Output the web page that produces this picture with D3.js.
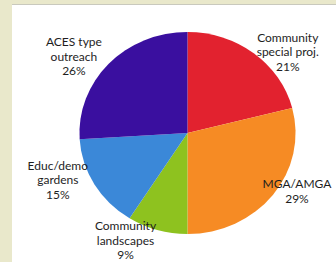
<!DOCTYPE html>
<html>
<head>
<meta charset="utf-8">
<script src="https://cdn.jsdelivr.net/npm/d3@7"></script>
<style>
  html, body { margin: 0; padding: 0; background: #e9e8cb; }
  svg { display: block; }
</style>
</head>
<body>
<svg id="chart" width="336" height="262"></svg>
<script>
// data, clockwise from 12 o'clock
var categories = ["Community special proj.", "MGA/AMGA", "Community landscapes", "Educ/demo gardens", "ACES type outreach"];
var values = [21, 29, 9, 15, 26];
var labelLines = [
    ["Community", "special proj.", "21%"],
    ["MGA/AMGA", "29%"],
    ["Community", "landscapes", "9%"],
    ["Educ/demo", "gardens", "15%"],
    ["ACES type", "outreach", "26%"]
];
var colors = ["#e2222f", "#f68b24", "#8ec21f", "#3b88d8", "#3a0f9f"];

// label placement: angle (deg, clockwise from top) and distance from centre
var labelPlace = [[51, 129], [118, 124], [210, 124], [250, 138], [304, 137]];

var width = 336, height = 262;
var cx = 187.5, cy = 133, r = 101, sx = 1.07;

var svg = d3.select("#chart");

// white panel
svg.append("rect").attr("x", 12).attr("y", 4).attr("width", width - 12).attr("height", height - 4)
    .attr("fill", "#ffffff");
svg.append("line").attr("x1", 12).attr("x2", width).attr("y1", 4.5).attr("y2", 4.5)
    .attr("stroke", "#c9c9bd").attr("stroke-width", 1);

var pie = d3.pie().sort(null).value(function(d){ return d; });
var arc = d3.arc().innerRadius(0).outerRadius(r);
var arcs = pie(values);

var g = svg.append("g").attr("transform", "translate(" + cx + "," + cy + ") scale(" + sx + ",1)");
g.selectAll("path")
    .data(arcs)
    .enter()
        .append("path")
        .attr("d", arc)
        .attr("fill", function(d, i){ return colors[i]; });

var lineH = 14.5;
var labels = svg.append("g").attr("font-family", "Lato, 'Open Sans', sans-serif")
    .attr("font-size", 12).attr("fill", "#1e1e1e").attr("text-anchor", "middle");

arcs.forEach(function(d, i){
    var a = labelPlace[i][0] * Math.PI / 180;
    var dist = labelPlace[i][1];
    var lx = cx + Math.sin(a) * dist;
    var ly = cy - Math.cos(a) * dist;
    var lines = labelLines[i];
    var y0 = ly - (lines.length - 1) * lineH / 2;
    var t = labels.append("text").attr("x", lx).attr("y", y0).attr("dy", "0.35em");
    lines.forEach(function(s, k){
        t.append("tspan").attr("x", lx).attr("y", y0 + k * lineH).attr("dy", "0.35em").text(s);
    });
});
</script>
</body>
</html>
